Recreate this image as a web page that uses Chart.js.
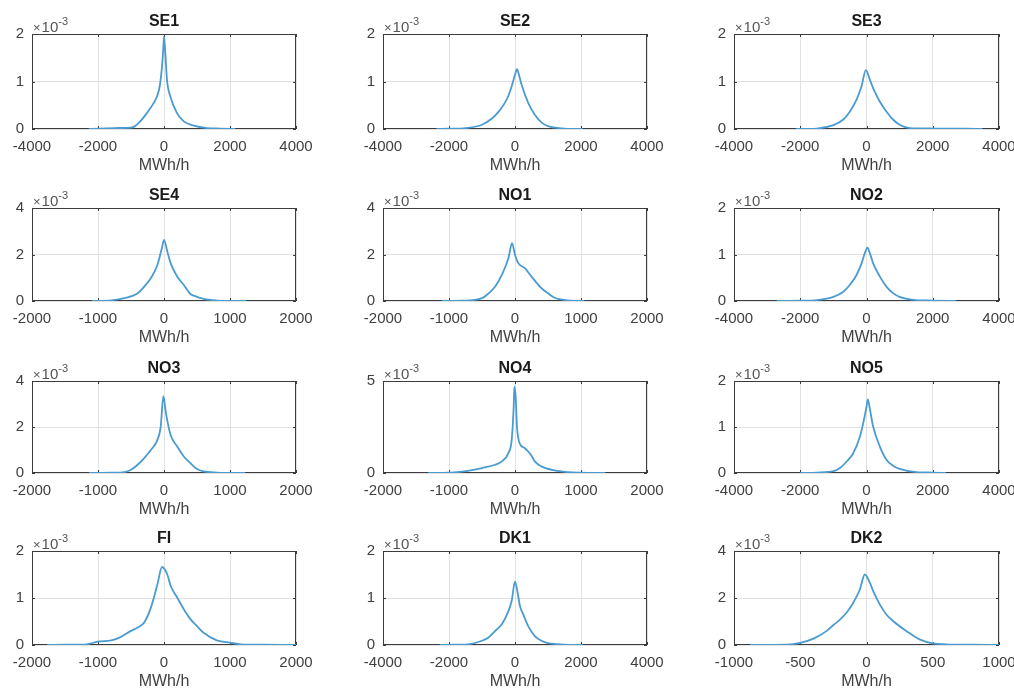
<!DOCTYPE html>
<html>
<head>
<meta charset="utf-8">
<script src="https://cdn.jsdelivr.net/npm/chart.js@4.4.0/dist/chart.umd.min.js"></script>
<style>
  html, body { margin: 0; padding: 0; background: #fff; overflow: hidden; }
  body { width: 1014px; height: 693px; position: relative; }
  canvas { position: absolute; }
</style>
</head>
<body>
<script>
// density values in units of 1e-3, x in MWh/h
const SE1_X = [-2280, -2000, -1500, -1000, -900, -720, -515, -310, -210, -130, -60, -20, 0, 40, 90, 190, 390, 600, 900, 1300, 1700, 2160];
const SE1_Y = [0, 0.01, 0.02, 0.03, 0.05, 0.16, 0.34, 0.55, 0.69, 0.9, 1.32, 1.7, 1.95, 1.6, 1.04, 0.69, 0.34, 0.16, 0.07, 0.02, 0.01, 0];

const SE2_X = [-2380, -2000, -1500, -1000, -700, -500, -300, -200, -100, 0, 60, 120, 200, 400, 600, 800, 1000, 1500, 2050];
const SE2_Y = [0, 0.005, 0.02, 0.09, 0.22, 0.36, 0.56, 0.7, 0.9, 1.14, 1.26, 1.14, 0.93, 0.55, 0.3, 0.14, 0.06, 0.01, 0];

const SE3_X = [-2130, -1500, -1000, -700, -500, -300, -150, -20, 100, 200, 400, 600, 800, 1000, 1300, 2000, 3000, 3500];
const SE3_Y = [0, 0.01, 0.08, 0.2, 0.37, 0.62, 0.9, 1.24, 1.04, 0.86, 0.58, 0.37, 0.2, 0.09, 0.02, 0.01, 0.005, 0];

const SE4_X = [-1090, -800, -600, -400, -300, -200, -100, -30, 0, 50, 100, 200, 300, 400, 450, 600, 800, 1000, 1250];
const SE4_Y = [0, 0.03, 0.12, 0.33, 0.62, 0.98, 1.55, 2.3, 2.63, 2.13, 1.63, 1.05, 0.69, 0.3, 0.23, 0.09, 0.02, 0.005, 0];

const NO1_X = [-1110, -800, -500, -400, -300, -200, -100, -45, 0, 50, 150, 250, 400, 500, 600, 800, 1050];
const NO1_Y = [0, 0.01, 0.12, 0.33, 0.62, 1.12, 1.84, 2.49, 1.99, 1.63, 1.41, 1.05, 0.55, 0.33, 0.14, 0.03, 0];

const NO2_X = [-2710, -2000, -1500, -1000, -700, -500, -300, -150, -50, 30, 100, 200, 400, 600, 800, 1000, 1500, 2000, 2700];
const NO2_Y = [0, 0.005, 0.02, 0.09, 0.2, 0.35, 0.56, 0.81, 1.03, 1.15, 1.03, 0.81, 0.53, 0.31, 0.17, 0.09, 0.02, 0.01, 0];

const NO3_X = [-1135, -800, -600, -500, -400, -300, -200, -100, -50, -10, 30, 100, 200, 300, 400, 500, 600, 800, 1000, 1230];
const NO3_Y = [0, 0.01, 0.04, 0.14, 0.36, 0.65, 1.0, 1.44, 2.01, 3.34, 2.59, 1.65, 1.15, 0.72, 0.43, 0.17, 0.07, 0.02, 0.005, 0];

const NO4_X = [-1315, -1000, -800, -500, -300, -200, -100, -50, -20, -10, 10, 30, 70, 150, 200, 250, 300, 400, 600, 800, 1000, 1370];
const NO4_Y = [0, 0.02, 0.07, 0.27, 0.45, 0.63, 1.08, 1.8, 3.6, 4.69, 4.15, 2.53, 1.62, 1.35, 1.17, 0.94, 0.63, 0.36, 0.14, 0.05, 0.02, 0];

const NO5_X = [-2000, -1500, -1000, -800, -600, -400, -200, -100, 0, 40, 100, 200, 400, 600, 800, 1000, 1500, 2000, 2400];
const NO5_Y = [0, 0.01, 0.04, 0.11, 0.25, 0.43, 0.79, 1.08, 1.44, 1.6, 1.4, 1.01, 0.58, 0.29, 0.16, 0.09, 0.02, 0.01, 0];

const FI_X = [-1770, -1500, -1200, -1000, -800, -700, -500, -400, -300, -200, -100, -30, 50, 100, 200, 300, 400, 500, 600, 800, 1000, 1200, 1500, 2000];
const FI_Y = [0, 0.005, 0.01, 0.07, 0.1, 0.14, 0.3, 0.37, 0.48, 0.79, 1.29, 1.66, 1.5, 1.26, 1.01, 0.76, 0.55, 0.4, 0.26, 0.1, 0.05, 0.01, 0.005, 0];

const DK1_X = [-2280, -2000, -1500, -1000, -800, -600, -400, -200, -100, 0, 80, 150, 250, 400, 600, 800, 1000, 1500, 2050];
const DK1_Y = [0, 0.005, 0.01, 0.09, 0.16, 0.3, 0.44, 0.72, 0.94, 1.35, 1.11, 0.83, 0.65, 0.4, 0.19, 0.09, 0.04, 0.01, 0];

const DK2_X = [-878, -600, -500, -400, -300, -250, -200, -150, -100, -50, -13, 25, 50, 100, 150, 200, 300, 400, 500, 600, 800, 1000];
const DK2_Y = [0, 0.01, 0.09, 0.27, 0.6, 0.85, 1.08, 1.38, 1.8, 2.36, 3.0, 2.65, 2.3, 1.73, 1.3, 1.02, 0.6, 0.24, 0.07, 0.03, 0.01, 0];

const regions = ['SE1', 'SE2', 'SE3', 'SE4', 'NO1', 'NO2', 'NO3', 'NO4', 'NO5', 'FI', 'DK1', 'DK2'];
const xSeries = [SE1_X, SE2_X, SE3_X, SE4_X, NO1_X, NO2_X, NO3_X, NO4_X, NO5_X, FI_X, DK1_X, DK2_X];
const ySeries = [SE1_Y, SE2_Y, SE3_Y, SE4_Y, NO1_Y, NO2_Y, NO3_Y, NO4_Y, NO5_Y, FI_Y, DK1_Y, DK2_Y];
const xLimits = [4000, 4000, 4000, 2000, 2000, 4000, 2000, 2000, 4000, 2000, 4000, 1000];
const yLimits = [2, 2, 2, 4, 4, 2, 4, 5, 2, 2, 2, 4];
const yTickSteps = [1, 1, 1, 2, 2, 1, 2, 5, 1, 1, 1, 2];

const FONT = '"Liberation Sans", Arial, Helvetica, sans-serif';
const TEXT_COLOR = '#404040';
const LINE_COLOR = '#4a9bd1';

const colLefts = [32, 383, 734];
const plotWidths = [264, 264, 265];
const rowTops = [34, 208, 381, 551];
const plotHeights = [95, 93, 92, 94];
// right side must hold half the last tick label plus the tick padding
const PAD_LEFT = 30, PAD_TOP = 34, PAD_RIGHT = 28, PAD_BOTTOM = 47;

// box, inner ticks, title and exponent, MATLAB style
const matlabFrame = {
    id: 'matlabFrame',
    beforeDatasetsDraw(chart, args, opts) {
        const { ctx, chartArea: a, scales } = chart;
        ctx.save();
        ctx.strokeStyle = '#3c3c3c';
        ctx.lineWidth = 1;
        ctx.beginPath();
        scales.x.ticks.forEach(t => {
            const px = Math.round(scales.x.getPixelForValue(t.value)) + 0.5;
            ctx.moveTo(px, a.bottom); ctx.lineTo(px, a.bottom - 3);
            ctx.moveTo(px, a.top); ctx.lineTo(px, a.top + 3);
        });
        scales.y.ticks.forEach(t => {
            const py = Math.round(scales.y.getPixelForValue(t.value)) + 0.5;
            ctx.moveTo(a.left, py); ctx.lineTo(a.left + 3, py);
            ctx.moveTo(a.right, py); ctx.lineTo(a.right - 3, py);
        });
        ctx.stroke();
        ctx.strokeRect(a.left + 0.5, a.top + 0.5, a.right - a.left - 1, a.bottom - a.top - 1);
        ctx.restore();
    },
    afterDraw(chart, args, opts) {
        const { ctx, chartArea: a } = chart;
        ctx.save();
        ctx.fillStyle = '#1a1a1a';
        ctx.font = 'bold 16px ' + FONT;
        ctx.textAlign = 'center';
        ctx.textBaseline = 'middle';
        ctx.fillText(opts.title, (a.left + a.right) / 2, a.top - 12);

        ctx.fillStyle = '#555555';
        ctx.textAlign = 'left';
        ctx.textBaseline = 'alphabetic';
        ctx.font = '13px ' + FONT;
        ctx.fillText('\u00d7', a.left + 1, a.top - 2);
        const w1 = ctx.measureText('\u00d7').width;
        ctx.font = '15px ' + FONT;
        ctx.fillText('10', a.left + 2 + w1, a.top - 2);
        const w2 = ctx.measureText('10').width;
        ctx.font = '11px ' + FONT;
        ctx.fillText('-3', a.left + 2 + w1 + w2, a.top - 9);
        ctx.restore();
    }
};

function makeChart(i) {
    const col = i % 3;
    const row = Math.floor(i / 3);
    const w = plotWidths[col];
    const h = plotHeights[row];
    const canvas = document.createElement('canvas');
    canvas.width = PAD_LEFT + w + PAD_RIGHT;
    canvas.height = PAD_TOP + h + PAD_BOTTOM;
    canvas.style.left = (colLefts[col] - PAD_LEFT) + 'px';
    canvas.style.top = (rowTops[row] - PAD_TOP) + 'px';
    document.body.appendChild(canvas);

    const points = xSeries[i].map((x, k) => ({ x: x, y: ySeries[i][k] }));
    const lim = xLimits[i];

    return new Chart(canvas.getContext('2d'), {
        type: 'line',
        data: {
            datasets: [{
                data: points,
                borderColor: LINE_COLOR,
                borderWidth: 1.8,
                pointRadius: 0,
                fill: false,
                cubicInterpolationMode: 'monotone'
            }]
        },
        options: {
            responsive: false,
            animation: false,
            devicePixelRatio: 1,
            layout: { padding: { left: 0, top: PAD_TOP, right: PAD_RIGHT, bottom: 0 } },
            plugins: {
                legend: { display: false },
                tooltip: { enabled: false },
                title: { display: false },
                matlabFrame: { title: regions[i] }
            },
            scales: {
                x: {
                    type: 'linear',
                    min: -lim,
                    max: lim,
                    afterFit: (s) => { s.height = PAD_BOTTOM; },
                    ticks: {
                        stepSize: lim / 2,
                        autoSkip: false,
                        maxRotation: 0,
                        padding: 9,
                        color: TEXT_COLOR,
                        font: { family: FONT, size: 15, lineHeight: 1.2 },
                        callback: (v) => String(v)
                    },
                    grid: { color: '#e2e2e2', drawTicks: false },
                    border: { display: false },
                    title: {
                        display: true,
                        text: 'MWh/h',
                        color: TEXT_COLOR,
                        font: { family: FONT, size: 16, lineHeight: 1.2 },
                        padding: { top: 0, bottom: 1 }
                    }
                },
                y: {
                    type: 'linear',
                    min: 0,
                    max: yLimits[i],
                    afterFit: (s) => { s.width = PAD_LEFT; },
                    ticks: {
                        stepSize: yTickSteps[i],
                        padding: 8,
                        color: TEXT_COLOR,
                        font: { family: FONT, size: 15, lineHeight: 1.2 },
                        callback: (v) => String(v)
                    },
                    grid: { color: '#e2e2e2', drawTicks: false },
                    border: { display: false }
                }
            }
        },
        plugins: [matlabFrame]
    });
}

document.addEventListener('DOMContentLoaded', () => {
    regions.forEach((r, i) => makeChart(i));
});
</script>
</body>
</html>
